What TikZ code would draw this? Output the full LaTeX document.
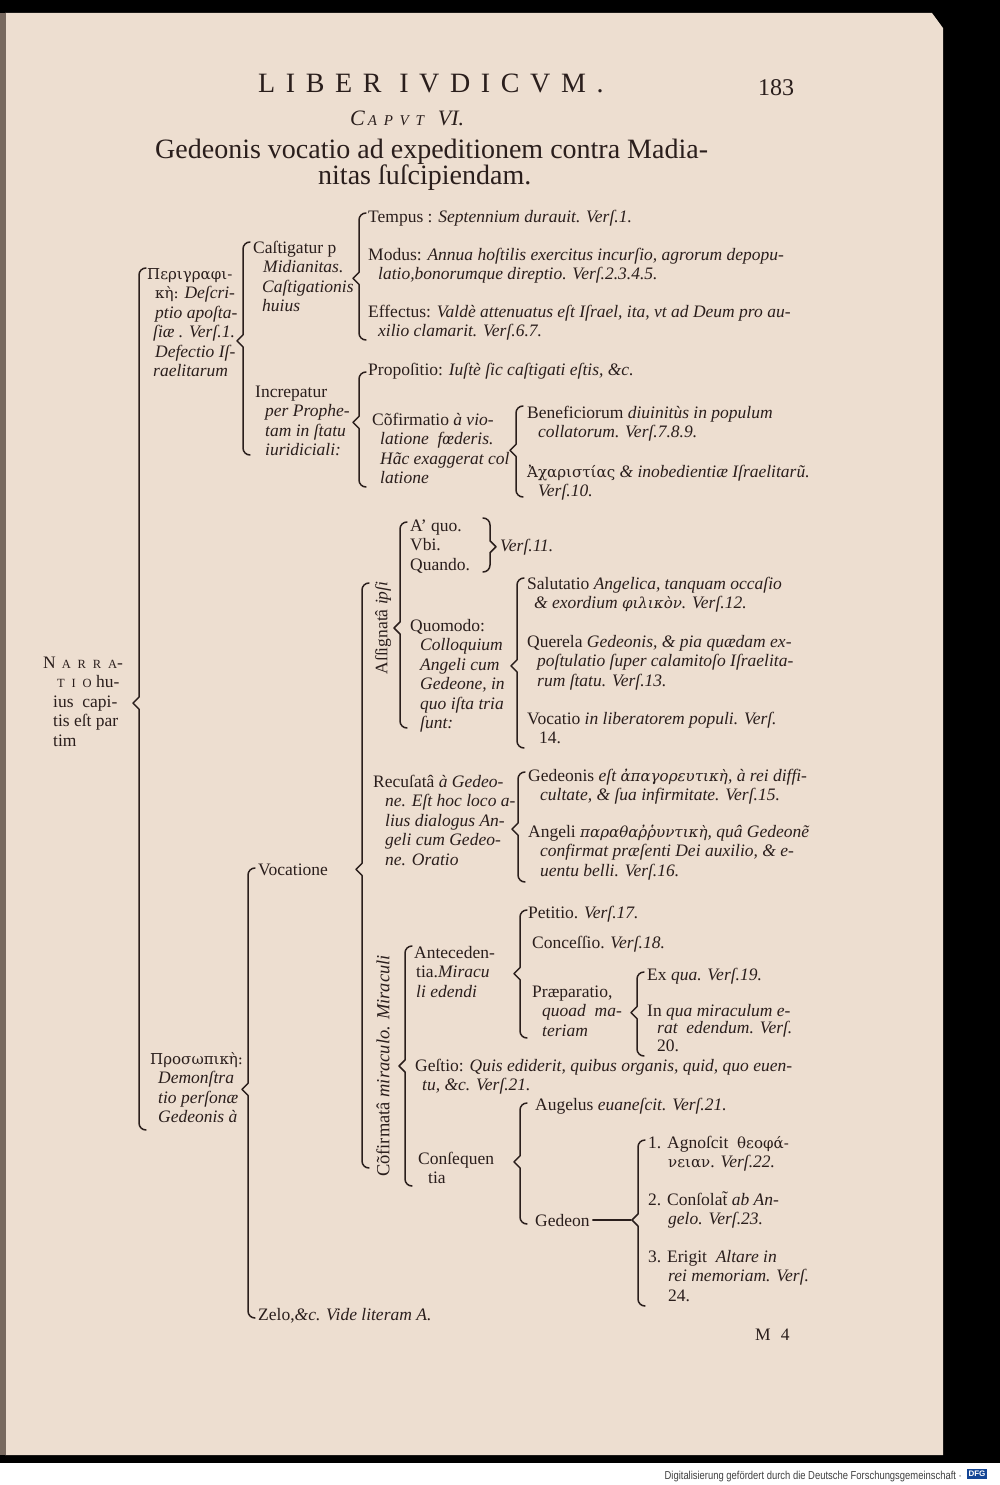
\documentclass[tikz,border=0pt]{standalone}
\usepackage{fontspec}
\setmainfont{Liberation Serif}
\newfontfamily\grk{DejaVu Serif}[Scale=0.86]
\newfontfamily\sperr{Liberation Serif}[LetterSpace=38]
\newfontfamily\dfgfont{Liberation Sans}
\usetikzlibrary{calc}

\definecolor{papier}{RGB}{237,222,208}
\definecolor{tinte}{RGB}{42,30,28}
\definecolor{rand}{RGB}{120,105,95}
\definecolor{dfgblau}{RGB}{20,70,150}

\newcommand{\grund}{\fontsize{17.5}{19.5}\selectfont}
\newcommand{\kap}[1]{{\fontsize{12.5}{19.5}\selectfont\addfontfeature{LetterSpace=55}#1}}
% mehrzeiliger Text, Grundlinie der ersten Zeile
\newcommand{\zl}[1]{\begin{tabular}[t]{@{}l@{}}#1\end{tabular}}

% Klammer: [Versatz]{Elternknoten}{x}{oben}{unten}
\newcommand{\klammer}[5][0]{%
  \coordinate (#2k) at (#3,#4);
  \draw[klam] (#3+7,#4) to[out=180,in=90] (#3,#4+7)
    -- ($(#2k |- #2.center)+(0,#1-6)$) -- ($(#2k |- #2.center)+(-6,#1)$)
    -- ($(#2k |- #2.center)+(0,#1+6)$)
    -- (#3,#5-7) to[out=-90,in=180] (#3+7,#5);}

\begin{document}
\begin{tikzpicture}[x=1pt,y=-1pt,
  txt/.style={anchor=base west,inner sep=0pt,text=tinte,font=\grund},
  klam/.style={draw=tinte,line width=1.5pt,line cap=round,line join=round}]
\useasboundingbox (0,0) rectangle (1000,1485);

% Hintergrund und Seite
\fill[black] (0,0) rectangle (1000,1463);
\fill[white] (0,1463) rectangle (1000,1485);
\fill[papier] (5,13) -- (932,13) -- (943,28) -- (943,1455) -- (5,1455) -- cycle;
\fill[rand] (0,13) rectangle (6,1455);

% Kopfzeile
\node[txt,font={\sperr\fontsize{28}{30}\selectfont}] (liber) at (258,93) {LIBER IVDICVM.};
\node[txt,font={\fontsize{24}{26}\selectfont}] (seite) at (758,96) {183};
\node[txt,font={\itshape\fontsize{22}{24}\selectfont}] (caput) at (350,125) {C\hspace{3pt}{\fontsize{15}{16}\selectfont\addfontfeature{LetterSpace=45}APVT}\hspace{14pt}VI.};
\node[txt,font={\fontsize{28}{30}\selectfont}] (kopf1) at (155,158) {Gedeonis vocatio ad expeditionem contra Madia-};
\node[txt,font={\fontsize{28}{30}\selectfont}] (kopf2) at (318,184) {nitas ſuſcipiendam.};

% Wurzel
\node[txt] (narr) at (43,668) {\zl{N\hspace{6pt}\kap{ARRA}-\\\hspace*{14pt}\kap{TIO}\ hu-\\\hspace*{10pt}ius\ \ capi-\\\hspace*{10pt}tis eſt par\\\hspace*{10pt}tim}};

% erster Teil
\node[txt] (perig) at (147,279) {\zl{{\grk Περιγραφι-}\\\hspace*{8pt}{\grk κὴ:} \textit{Deſcri-}\\\hspace*{8pt}\textit{ptio apoſta-}\\\hspace*{6pt}\textit{ſiæ . Verſ.1.}\\\hspace*{8pt}\textit{Defectio Iſ-}\\\hspace*{6pt}\textit{raelitarum}}};
\node[txt] (cast) at (253,253) {\zl{Caſtigatur p\\\hspace*{10pt}\textit{Midianitas.}\\\hspace*{9pt}\textit{Caſtigationis}\\\hspace*{9pt}\textit{huius}}};
\node[txt] (incr) at (255,397) {\zl{Increpatur\\\hspace*{10pt}\textit{per Prophe-}\\\hspace*{10pt}\textit{tam in ſtatu}\\\hspace*{10pt}\textit{iuridiciali:}}};

\node[txt] (tempus) at (368,222) {Tempus : \textit{Septennium durauit. Verſ.1.}};
\node[txt] (modus) at (368,260) {\zl{Modus: \textit{Annua hoſtilis exercitus incurſio, agrorum depopu-}\\\hspace*{10pt}\textit{latio,bonorumque direptio. Verſ.2.3.4.5.}}};
\node[txt] (effectus) at (368,317) {\zl{Effectus: \textit{Valdè attenuatus eſt Iſrael, ita, vt ad Deum pro au-}\\\hspace*{10pt}\textit{xilio clamarit. Verſ.6.7.}}};

\node[txt] (propos) at (368,375) {Propoſitio: \textit{Iuſtè ſic caſtigati eſtis, \&c.}};
\node[txt] (confirm) at (372,425) {\zl{Cõfirmatio \textit{à vio-}\\\hspace*{8pt}\textit{latione\ \ fœderis.}\\\hspace*{8pt}\textit{Hãc exaggerat col}\\\hspace*{8pt}\textit{latione}}};
\node[txt] (benef) at (527,418) {\zl{Beneficiorum \textit{diuinitùs in populum}\\\hspace*{11pt}\textit{collatorum. Verſ.7.8.9.}}};
\node[txt] (achar) at (527,477) {\zl{{\grk Ἀχαριστίας} \textit{\& inobedientiæ Iſraelitarũ.}\\\hspace*{11pt}\textit{Verſ.10.}}};

% zweiter Teil
\node[txt] (proso) at (150,1064) {\zl{{\grk Προσωπικὴ:}\\\hspace*{8pt}\textit{Demonſtra}\\\hspace*{8pt}\textit{tio perſonæ}\\\hspace*{8pt}\textit{Gedeonis à}}};
\node[txt] (vocat) at (258,875) {Vocatione};
\node[txt] (zelo) at (258,1320) {Zelo,\textit{\&c. Vide literam A.}};

\node[txt,anchor=center,rotate=90] (assig) at (383,628) {Aſſignatâ \textit{ipſi}};
\node[txt] (recus) at (373,787) {\zl{Recuſatâ \textit{à Gedeo-}\\\hspace*{12pt}\textit{ne. Eſt hoc loco a-}\\\hspace*{12pt}\textit{lius dialogus An-}\\\hspace*{12pt}\textit{geli cum Gedeo-}\\\hspace*{12pt}\textit{ne. Oratio}}};
\node[txt,anchor=center,rotate=90,font={\fontsize{18.5}{20}\selectfont}] (cofirm) at (383,1066) {Cõfirmatâ \textit{miraculo. Miraculi}};

\node[txt] (aquo) at (410,531) {\zl{A' quo.\\Vbi.\\Quando.}};
\node[txt] (vers11) at (500,551) {\textit{Verſ.11.}};
\node[txt] (quomodo) at (410,631) {\zl{Quomodo:\\\hspace*{10pt}\textit{Colloquium}\\\hspace*{10pt}\textit{Angeli cum}\\\hspace*{10pt}\textit{Gedeone, in}\\\hspace*{10pt}\textit{quo iſta tria}\\\hspace*{10pt}\textit{ſunt:}}};
\node[txt] (salut) at (527,589) {\zl{Salutatio \textit{Angelica, tanquam occaſio}\\\hspace*{7pt}\textit{\& exordium {\grk φιλικὸν}. Verſ.12.}}};
\node[txt] (querela) at (527,647) {\zl{Querela \textit{Gedeonis, \& pia quædam ex-}\\\hspace*{10pt}\textit{poſtulatio ſuper calamitoſo Iſraelita-}\\\hspace*{10pt}\textit{rum ſtatu. Verſ.13.}}};
\node[txt] (vocatio) at (527,724) {\zl{Vocatio \textit{in liberatorem populi. Verſ.}\\\hspace*{12pt}14.}};

\node[txt] (gedeonis) at (528,781) {\zl{Gedeonis \textit{eſt {\grk ἀπαγορευτικὴ}, à rei diffi-}\\\hspace*{12pt}\textit{cultate, \& ſua infirmitate. Verſ.15.}}};
\node[txt] (angeli) at (528,837) {\zl{Angeli \textit{{\grk παραθαῤῥυντικὴ}, quâ Gedeonẽ}\\\hspace*{12pt}\textit{confirmat præſenti Dei auxilio, \& e-}\\\hspace*{12pt}\textit{uentu belli. Verſ.16.}}};

\node[txt] (antec) at (414,958) {\zl{Anteceden-\\\hspace*{2pt}tia.\textit{Miracu}\\\hspace*{2pt}\textit{li edendi}}};
\node[txt] (petitio) at (528,918) {Petitio. \textit{Verſ.17.}};
\node[txt] (conces) at (532,948) {Conceſſio. \textit{Verſ.18.}};
\node[txt] (praep) at (532,997) {\zl{Præparatio,\\\hspace*{10pt}\textit{quoad\ \ ma-}\\\hspace*{10pt}\textit{teriam}}};
\node[txt] (exqua) at (647,980) {Ex \textit{qua. Verſ.19.}};
\node[txt,font={\fontsize{17.5}{17.5}\selectfont}] (inqua) at (647,1016) {\zl{In \textit{qua miraculum e-}\\\hspace*{10pt}\textit{rat\ \ edendum. Verſ.}\\\hspace*{10pt}20.}};
\node[txt] (geſtio) at (415,1071) {\zl{Geſtio: \textit{Quis ediderit, quibus organis, quid, quo euen-}\\\hspace*{7pt}\textit{tu, \&c. Verſ.21.}}};
\node[txt] (conseq) at (418,1164) {\zl{Conſequen\\\hspace*{10pt}tia}};
\node[txt] (augel) at (535,1110) {Augelus \textit{euaneſcit. Verſ.21.}};
\node[txt] (gedeon) at (535,1226) {Gedeon};
\node[txt] (agn) at (648,1148) {\zl{1. Agnoſcit\ \ {\grk θεοφά-}\\\hspace*{20pt}{\grk νειαν}. \textit{Verſ.22.}}};
\node[txt] (consol) at (648,1205) {\zl{2. Conſolat̃ \textit{ab An-}\\\hspace*{20pt}\textit{gelo. Verſ.23.}}};
\node[txt] (erigit) at (648,1262) {\zl{3. Erigit\ \ \textit{Altare in}\\\hspace*{20pt}\textit{rei memoriam. Verſ.}\\\hspace*{20pt}24.}};

% Klammern
\klammer{narr}{139}{268}{1130}
\klammer[17]{perig}{243}{242}{455}
\klammer{cast}{359}{213}{340}
\klammer{incr}{359}{372}{487}
\klammer{confirm}{516}{406}{497}
\klammer{proso}{248}{868}{1318}
\klammer{vocat}{362}{583}{1168}
\klammer{assig}{400}{522}{728}
\klammer[-10]{quomodo}{517}{578}{748}
\klammer[7]{recus}{518}{772}{882}
\klammer{cofirm}{405}{946}{1186}
\klammer{antec}{520}{910}{1038}
\klammer{praep}{637}{972}{1056}
\klammer[-8]{conseq}{520}{1103}{1224}
\klammer{gedeon}{638}{1140}{1306}

% rechte Klammer und Strich
\coordinate (aquok) at (490,518);
\draw[klam] (483,518) to[out=0,in=90] (490,525)
  -- ($(aquok |- vers11.center)+(0,-6)$) -- ($(aquok |- vers11.center)+(6,0)$)
  -- ($(aquok |- vers11.center)+(0,6)$) -- (490,565) to[out=-90,in=0] (483,572);
\draw[klam] ([xshift=3pt]gedeon.east) -- ($(gedeonk |- gedeon.center)+(-7,0)$);

% Bogenzeichen
\node[txt] (bogen) at (755,1340) {M\hspace{10pt}4};

% Fusszeile
\node[anchor=base east,inner sep=0pt,xscale=0.82,text=black!75,font={\dfgfont\fontsize{11.5}{12}\selectfont}] (dfg) at (962,1479) {Digitalisierung gefördert durch die Deutsche Forschungsgemeinschaft ·};
\node[fill=dfgblau,text=white,inner sep=2pt,font={\dfgfont\bfseries\fontsize{8}{8}\selectfont}] (logo) at (977,1474) {DFG};
\end{tikzpicture}
\end{document}
